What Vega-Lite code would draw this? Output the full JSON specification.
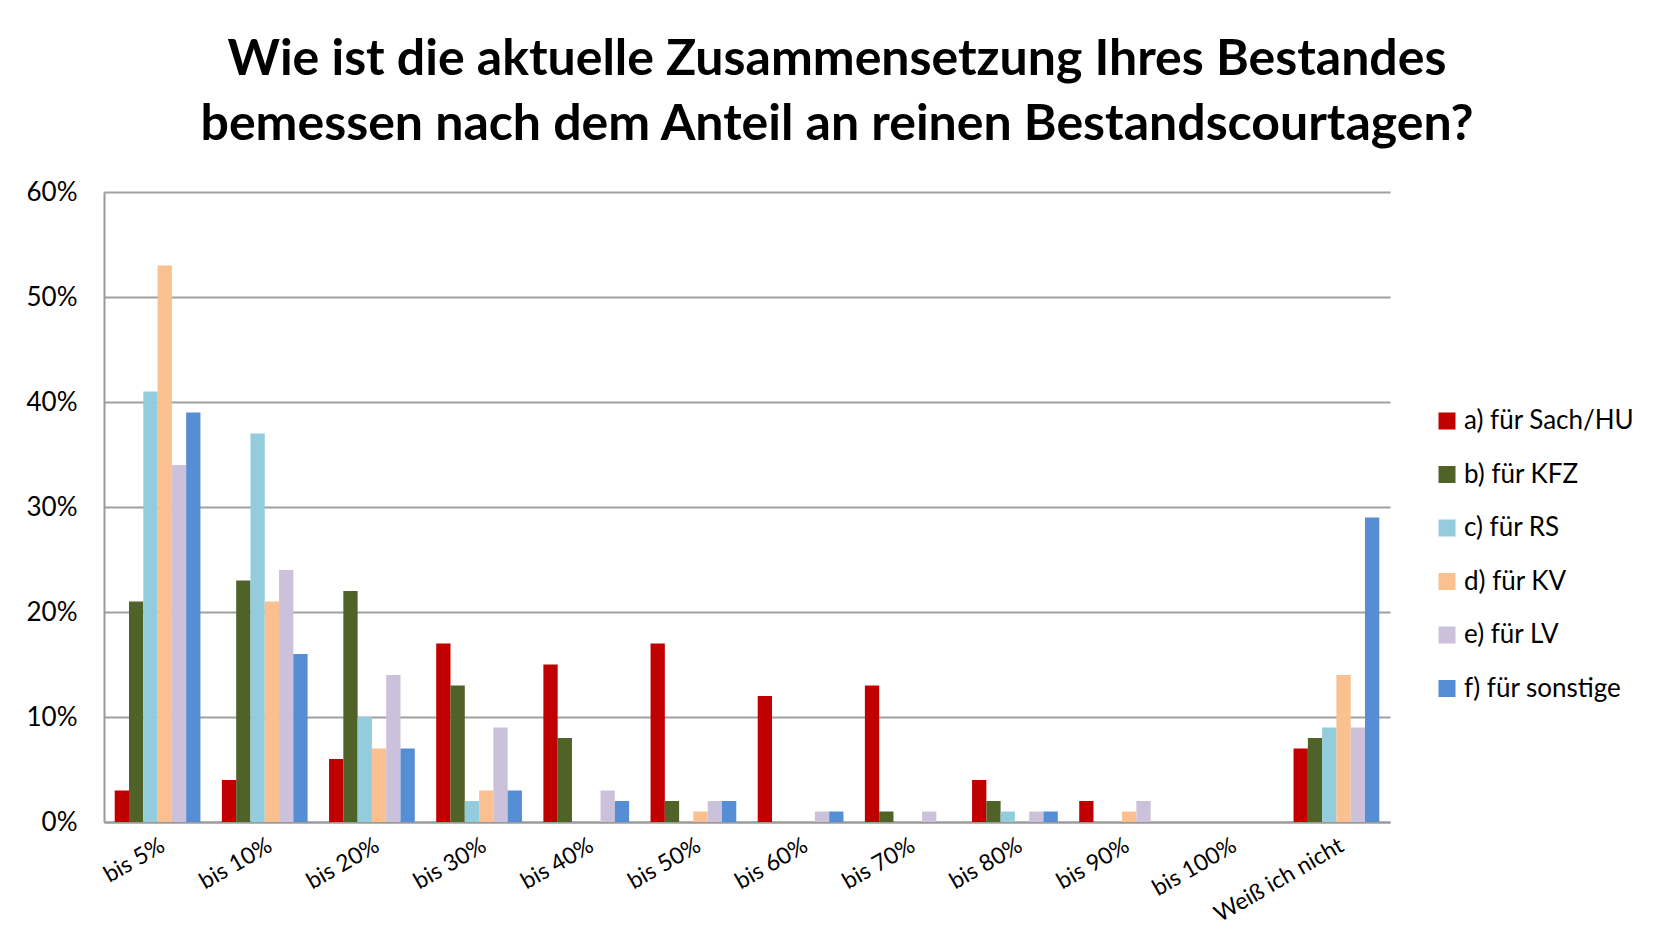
{
  "$schema": "https://vega.github.io/schema/vega-lite/v6.json",
  "width": 1286,
  "height": 630,
  "autosize": {"type": "none"},
  "padding": {"left": 104, "top": 192, "right": 274, "bottom": 129},
  "background": "white",
  "title": {
    "text": ["Wie ist die aktuelle Zusammensetzung Ihres Bestandes", "bemessen nach dem Anteil an reinen Bestandscourtagen?"],
    "font": "Lato",
    "fontSize": 50,
    "fontWeight": "bold",
    "color": "#000000",
    "lineHeight": 65,
    "anchor": "middle",
    "dx": 90,
    "offset": 29
  },
  "data": {
    "values": [
      {"cat": "bis 5%", "series": "a) für Sach/HU", "value": 3},
      {"cat": "bis 5%", "series": "b) für KFZ", "value": 21},
      {"cat": "bis 5%", "series": "c) für RS", "value": 41},
      {"cat": "bis 5%", "series": "d) für KV", "value": 53},
      {"cat": "bis 5%", "series": "e) für LV", "value": 34},
      {"cat": "bis 5%", "series": "f) für sonstige", "value": 39},
      {"cat": "bis 10%", "series": "a) für Sach/HU", "value": 4},
      {"cat": "bis 10%", "series": "b) für KFZ", "value": 23},
      {"cat": "bis 10%", "series": "c) für RS", "value": 37},
      {"cat": "bis 10%", "series": "d) für KV", "value": 21},
      {"cat": "bis 10%", "series": "e) für LV", "value": 24},
      {"cat": "bis 10%", "series": "f) für sonstige", "value": 16},
      {"cat": "bis 20%", "series": "a) für Sach/HU", "value": 6},
      {"cat": "bis 20%", "series": "b) für KFZ", "value": 22},
      {"cat": "bis 20%", "series": "c) für RS", "value": 10},
      {"cat": "bis 20%", "series": "d) für KV", "value": 7},
      {"cat": "bis 20%", "series": "e) für LV", "value": 14},
      {"cat": "bis 20%", "series": "f) für sonstige", "value": 7},
      {"cat": "bis 30%", "series": "a) für Sach/HU", "value": 17},
      {"cat": "bis 30%", "series": "b) für KFZ", "value": 13},
      {"cat": "bis 30%", "series": "c) für RS", "value": 2},
      {"cat": "bis 30%", "series": "d) für KV", "value": 3},
      {"cat": "bis 30%", "series": "e) für LV", "value": 9},
      {"cat": "bis 30%", "series": "f) für sonstige", "value": 3},
      {"cat": "bis 40%", "series": "a) für Sach/HU", "value": 15},
      {"cat": "bis 40%", "series": "b) für KFZ", "value": 8},
      {"cat": "bis 40%", "series": "c) für RS", "value": 0},
      {"cat": "bis 40%", "series": "d) für KV", "value": 0},
      {"cat": "bis 40%", "series": "e) für LV", "value": 3},
      {"cat": "bis 40%", "series": "f) für sonstige", "value": 2},
      {"cat": "bis 50%", "series": "a) für Sach/HU", "value": 17},
      {"cat": "bis 50%", "series": "b) für KFZ", "value": 2},
      {"cat": "bis 50%", "series": "c) für RS", "value": 0},
      {"cat": "bis 50%", "series": "d) für KV", "value": 1},
      {"cat": "bis 50%", "series": "e) für LV", "value": 2},
      {"cat": "bis 50%", "series": "f) für sonstige", "value": 2},
      {"cat": "bis 60%", "series": "a) für Sach/HU", "value": 12},
      {"cat": "bis 60%", "series": "b) für KFZ", "value": 0},
      {"cat": "bis 60%", "series": "c) für RS", "value": 0},
      {"cat": "bis 60%", "series": "d) für KV", "value": 0},
      {"cat": "bis 60%", "series": "e) für LV", "value": 1},
      {"cat": "bis 60%", "series": "f) für sonstige", "value": 1},
      {"cat": "bis 70%", "series": "a) für Sach/HU", "value": 13},
      {"cat": "bis 70%", "series": "b) für KFZ", "value": 1},
      {"cat": "bis 70%", "series": "c) für RS", "value": 0},
      {"cat": "bis 70%", "series": "d) für KV", "value": 0},
      {"cat": "bis 70%", "series": "e) für LV", "value": 1},
      {"cat": "bis 70%", "series": "f) für sonstige", "value": 0},
      {"cat": "bis 80%", "series": "a) für Sach/HU", "value": 4},
      {"cat": "bis 80%", "series": "b) für KFZ", "value": 2},
      {"cat": "bis 80%", "series": "c) für RS", "value": 1},
      {"cat": "bis 80%", "series": "d) für KV", "value": 0},
      {"cat": "bis 80%", "series": "e) für LV", "value": 1},
      {"cat": "bis 80%", "series": "f) für sonstige", "value": 1},
      {"cat": "bis 90%", "series": "a) für Sach/HU", "value": 2},
      {"cat": "bis 90%", "series": "b) für KFZ", "value": 0},
      {"cat": "bis 90%", "series": "c) für RS", "value": 0},
      {"cat": "bis 90%", "series": "d) für KV", "value": 1},
      {"cat": "bis 90%", "series": "e) für LV", "value": 2},
      {"cat": "bis 90%", "series": "f) für sonstige", "value": 0},
      {"cat": "bis 100%", "series": "a) für Sach/HU", "value": 0},
      {"cat": "bis 100%", "series": "b) für KFZ", "value": 0},
      {"cat": "bis 100%", "series": "c) für RS", "value": 0},
      {"cat": "bis 100%", "series": "d) für KV", "value": 0},
      {"cat": "bis 100%", "series": "e) für LV", "value": 0},
      {"cat": "bis 100%", "series": "f) für sonstige", "value": 0},
      {"cat": "Weiß ich nicht", "series": "a) für Sach/HU", "value": 7},
      {"cat": "Weiß ich nicht", "series": "b) für KFZ", "value": 8},
      {"cat": "Weiß ich nicht", "series": "c) für RS", "value": 9},
      {"cat": "Weiß ich nicht", "series": "d) für KV", "value": 14},
      {"cat": "Weiß ich nicht", "series": "e) für LV", "value": 9},
      {"cat": "Weiß ich nicht", "series": "f) für sonstige", "value": 29}
    ]
  },
  "mark": {"type": "bar"},
  "encoding": {
    "x": {
      "field": "cat",
      "type": "nominal",
      "sort": null,
      "title": null,
      "scale": {"paddingInner": 0.2, "paddingOuter": 0.1},
      "axis": {
        "labelAngle": -30,
        "labelFont": "Lato",
        "labelFontSize": 23,
        "labelColor": "#000000",
        "labelPadding": 12,
        "labelLimit": 300,
        "ticks": false,
        "domainColor": "#9a9a9a",
        "domainWidth": 2,
        "grid": false
      }
    },
    "xOffset": {"field": "series", "type": "nominal", "sort": null},
    "y": {
      "field": "value",
      "type": "quantitative",
      "title": null,
      "scale": {"domain": [0, 60], "nice": false},
      "axis": {
        "values": [0, 10, 20, 30, 40, 50, 60],
        "labelExpr": "datum.value + '%'",
        "labelFont": "Lato",
        "labelFontSize": 26,
        "labelColor": "#000000",
        "labelPadding": 27,
        "ticks": false,
        "domainColor": "#9a9a9a",
        "domainWidth": 2,
        "gridColor": "#a0a0a0",
        "gridWidth": 2,
        "gridOpacity": 1
      }
    },
    "color": {
      "field": "series",
      "type": "nominal",
      "sort": null,
      "scale": {
        "domain": ["a) für Sach/HU", "b) für KFZ", "c) für RS", "d) für KV", "e) für LV", "f) für sonstige"],
        "range": ["#C00000", "#4F6228", "#93CDDD", "#FAC090", "#CCC1DA", "#558ED5"]
      },
      "legend": {
        "title": null,
        "orient": "none",
        "legendX": 1330,
        "legendY": 216,
        "symbolType": "square",
        "symbolSize": 289,
        "symbolStrokeWidth": 0,
        "labelFont": "Lato",
        "labelFontSize": 26,
        "labelLimit": 400,
        "labelColor": "#000000",
        "labelOffset": 4,
        "rowPadding": 27.5
      }
    }
  },
  "config": {
    "view": {"stroke": null},
    "axis": {"labelFontWeight": "normal"}
  }
}
